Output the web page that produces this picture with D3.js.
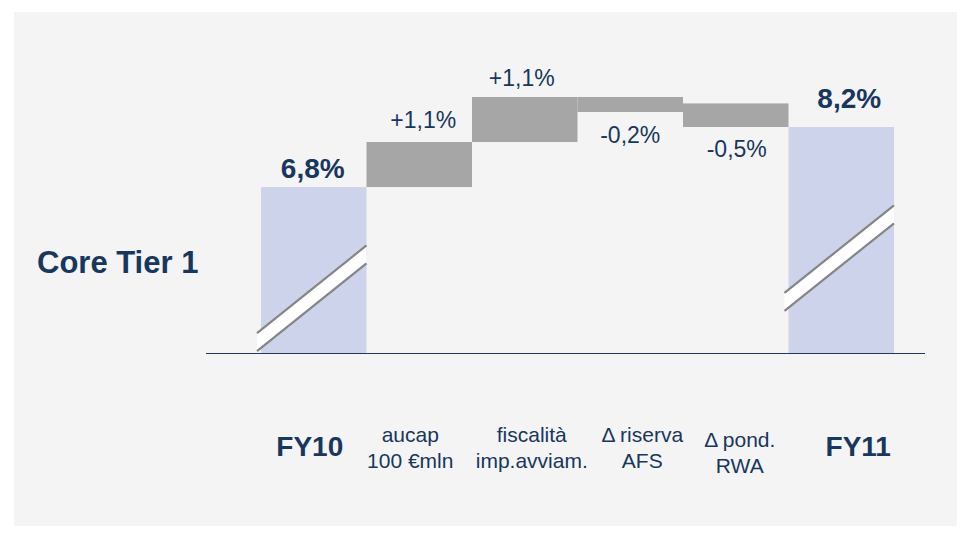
<html>
<head>
  <meta charset="utf-8">
  <title>Core Tier 1</title>
  <script src="https://d3js.org/d3.v7.min.js"></script>
  <style>
    html, body { margin: 0; background: #fff; }
    text { font-family: Arial, "Liberation Sans", Helvetica, sans-serif; fill: #17375e; }
  </style>
</head>
<body>
  <script>
    // steps of the waterfall
    var categories = ["FY10", "aucap|100 €mln", "fiscalità|imp.avviam.", "Δ riserva|AFS", "Δ pond.|RWA", "FY11"];
    var kinds = ["total", "delta", "delta", "delta", "delta", "total"];
    // bar bottom / top in % (totals start from the cut axis)
    var barFrom = [null, 6.8, 7.85, 8.9, 8.75, null];
    var barTo = [6.8, 7.85, 8.9, 8.55, 8.2, 8.2];
    var valueLabels = ["6,8%", "+1,1%", "+1,1%", "-0,2%", "-0,5%", "8,2%"];
    var axisCut = 2.93;

    var width = 964,
        height = 537;

    var svg = d3.select('body')
      .append('svg')
      .attr('width', width)
      .attr('height', height);

    // grey panel
    svg.append('rect')
      .attr('x', 14).attr('y', 12)
      .attr('width', 943).attr('height', 514)
      .attr('fill', '#f4f4f4');

    var x = d3.scaleBand()
      .domain(categories)
      .range([261, 894])
      .padding(0);

    var y = d3.scaleLinear()
      .domain([axisCut, 8.9])
      .range([353, 97]);

    var bars = categories.map(function (c, i) {
      var a = kinds[i] === 'total' ? axisCut : barFrom[i];
      return { cat: c, kind: kinds[i], lo: Math.min(a, barTo[i]), hi: Math.max(a, barTo[i]),
               from: a, to: barTo[i], label: valueLabels[i], i: i };
    });

    svg.append('g').selectAll('rect')
      .data(bars)
      .enter()
      .append('rect')
      .attr('x', d => x(d.cat))
      .attr('y', d => y(d.hi))
      .attr('width', x.bandwidth())
      .attr('height', d => y(d.lo) - y(d.hi))
      .attr('fill', d => d.kind === 'total' ? '#cdd3ea' : '#a6a6a6');

    // axis break marks on the total bars
    var breakAt = [0.33, 0.42];
    var totals = bars.filter(d => d.kind === 'total');
    var brk = svg.append('g');
    totals.forEach(function (d, k) {
      var x0 = x(d.cat) - 4,
          x1 = x(d.cat) + x.bandwidth(),
          cx = (x0 + x1) / 2,
          cy = y(d.lo) - (y(d.lo) - y(d.hi)) * breakAt[k],
          dy = (x1 - x0) * 0.8 / 2,
          t = 9;
      brk.append('polygon')
        .attr('points', [[x0, cy + dy - t], [x1, cy - dy - t], [x1, cy - dy + t], [x0, cy + dy + t]].join(' '))
        .attr('fill', '#fff');
      [-t, t].forEach(function (o) {
        brk.append('line')
          .attr('x1', x0).attr('y1', cy + dy + o)
          .attr('x2', x1).attr('y2', cy - dy + o)
          .attr('stroke', '#858585')
          .attr('stroke-width', 2.2);
      });
    });

    // base line
    svg.append('line')
      .attr('x1', 206).attr('x2', 925)
      .attr('y1', y(axisCut) + 0.5).attr('y2', y(axisCut) + 0.5)
      .attr('stroke', '#1f3a60')
      .attr('stroke-width', 1.2);

    // value labels
    var valueDy = [-9, -14, -11, 31, 30, -19];
    var valueDx = [-1, 4, -3, 0, 1, 8];
    svg.append('g').selectAll('text')
      .data(bars)
      .enter()
      .append('text')
      .attr('x', d => x(d.cat) + x.bandwidth() / 2 + valueDx[d.i])
      .attr('y', d => (d.to < (d.from || 0) ? y(d.lo) : y(d.hi)) + valueDy[d.i])
      .attr('text-anchor', 'middle')
      .style('font-size', d => d.kind === 'total' ? '28px' : '23px')
      .style('font-weight', d => d.kind === 'total' ? 'bold' : 'normal')
      .text(d => d.label);

    // category labels
    var catDx = [-4, -9, 7, 12, 4, 17];
    var catDy = [0, 0, 0, 0, 5, 0];
    var cat = svg.append('g').selectAll('text')
      .data(bars)
      .enter()
      .append('text')
      .attr('text-anchor', 'middle')
      .attr('transform', d => 'translate(' + (x(d.cat) + x.bandwidth() / 2 + catDx[d.i]) + ',' + (442 + catDy[d.i]) + ')')
      .style('font-size', d => d.kind === 'total' ? '28px' : '21px')
      .style('font-weight', d => d.kind === 'total' ? 'bold' : 'normal');

    cat.selectAll('tspan')
      .data(d => d.kind === 'total' ? [d.cat] : d.cat.split('|'))
      .enter()
      .append('tspan')
      .attr('x', 0)
      .attr('y', (s, j, n) => n.length === 1 ? 14 : j * 25.5)
      .text(s => s);

    svg.append('text')
      .attr('x', 37).attr('y', 273)
      .style('font-size', '31px')
      .style('font-weight', 'bold')
      .text('Core Tier 1');
  </script>
</body>
</html>
